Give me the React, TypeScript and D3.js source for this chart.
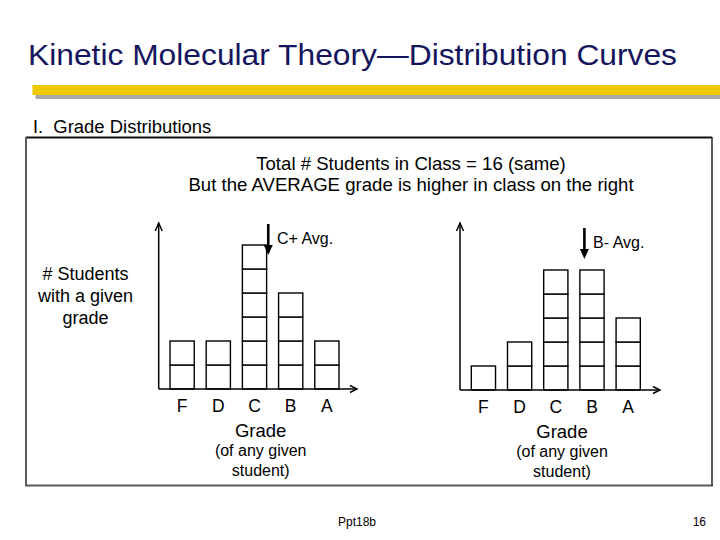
import React from "react";
import * as d3 from "d3";

const grades = ["F", "D", "C", "B", "A"];
const leftCounts = [2, 2, 6, 4, 2];
const rightCounts = [1, 2, 5, 5, 3];
const avgLabels = ["C+ Avg.", "B- Avg."];
const avgGradeIndex = [2.38, 2.79];
const titleText = "Kinetic Molecular Theory\u2014Distribution Curves";
const sectionNum = "I.";
const sectionText = "Grade Distributions";
const headerLines = [
  "Total # Students in Class = 16 (same)",
  "But the AVERAGE grade is higher in class on the right",
];
const yLabelLines = ["# Students", "with a given", "grade"];
const xLabelLines = ["Grade", "(of any given", "student)"];

const FONT = "'Liberation Sans', Arial, Helvetica, sans-serif";

type PanelProps = {
  counts: number[];
  axisX: number;
  baseY: number;
  axisTop: number;
  axisRight: number;
  avgIdx: number;
  avgLabel: string;
  arrowTopOffset: number;
};

function Panel({ counts, axisX, baseY, axisTop, axisRight, avgIdx, avgLabel, arrowTopOffset }: PanelProps) {
  const step = 36.2;
  const x = d3
    .scaleBand<string>()
    .domain(grades)
    .range([axisX + 5.3, axisX + 5.3 + step * 5])
    .paddingInner(0.331)
    .paddingOuter(0.166);
  const y = d3.scaleLinear().domain([0, 7]).range([baseY, baseY - 168]);
  const idx = d3
    .scaleLinear()
    .domain([0, 4])
    .range([(x("F") as number) + x.bandwidth() / 2, (x("A") as number) + x.bandwidth() / 2]);
  const ax = idx(avgIdx);
  const aTop = axisTop + arrowTopOffset;
  const aTip = aTop + 31;
  const boxes: { g: string; i: number }[] = [];
  grades.forEach((g, k) => {
    for (let i = 0; i < counts[k]; i++) boxes.push({ g, i });
  });
  return (
    <g>
      {boxes.map((b, j) => (
        <rect
          key={j}
          x={x(b.g)}
          y={y(b.i + 1)}
          width={x.bandwidth()}
          height={y(b.i) - y(b.i + 1)}
          fill="#fff"
          stroke="#000"
          strokeWidth={1.4}
        />
      ))}
      <line x1={axisX} y1={baseY} x2={axisX} y2={axisTop} stroke="#000" strokeWidth={1.5} />
      <polyline
        points={`${axisX - 3.5},${axisTop + 8} ${axisX},${axisTop} ${axisX + 3.5},${axisTop + 8}`}
        fill="none"
        stroke="#000"
        strokeWidth={1.5}
      />
      <line x1={axisX} y1={baseY} x2={axisRight} y2={baseY} stroke="#000" strokeWidth={1.6} />
      <polyline
        points={`${axisRight - 7},${baseY - 3.5} ${axisRight},${baseY} ${axisRight - 7},${baseY + 3.5}`}
        fill="none"
        stroke="#000"
        strokeWidth={1.4}
      />
      {grades.map((g) => (
        <text
          key={g}
          x={(x(g) as number) + x.bandwidth() / 2}
          y={baseY + 22.5}
          textAnchor="middle"
          fontSize={17.5}
          fontFamily={FONT}
          fill="#000"
        >
          {g}
        </text>
      ))}
      {xLabelLines.map((t, i) => (
        <text
          key={t}
          x={axisX + 102}
          y={baseY + [47.5, 66.5, 87][i]}
          textAnchor="middle"
          fontSize={i === 0 ? 18.5 : 16}
          fontFamily={FONT}
          fill="#000"
        >
          {t}
        </text>
      ))}
      <line x1={ax} y1={aTop} x2={ax} y2={aTip - 8} stroke="#000" strokeWidth={2.6} />
      <polygon points={`${ax - 4.5},${aTip - 10} ${ax + 4.5},${aTip - 10} ${ax},${aTip}`} fill="#000" />
      <text x={ax + 8.7} y={aTop + 19.5} fontSize={16} fontFamily={FONT} fill="#000">
        {avgLabel}
      </text>
    </g>
  );
}

export default function App() {
  return (
    <svg
      width={720}
      height={540}
      style={{ position: "absolute", left: 0, top: 0, background: "#fff" }}
    >
      <rect x={0} y={0} width={720} height={540} fill="#fff" />
      <text
        x={28}
        y={65}
        fontSize={30}
        fontFamily={FONT}
        fill="#15155e"
        textLength={649}
        lengthAdjust="spacingAndGlyphs"
      >
        {titleText}
      </text>
      <rect x={35.5} y={89} width={690} height={10} fill="#a9a9a9" />
      <rect x={32.5} y={85} width={690} height={10} fill="#f0c800" />
      <text x={33} y={133.3} fontSize={18} fontFamily={FONT} fill="#000">
        {sectionNum}
      </text>
      <text x={53.3} y={133.3} fontSize={18} fontFamily={FONT} fill="#000" textLength={158} lengthAdjust="spacingAndGlyphs">
        {sectionText}
      </text>
      <line x1={26} y1={137.5} x2={712} y2={137.5} stroke="#111" strokeWidth={1.8} />
      <line x1={26} y1={137} x2={26} y2={486} stroke="#5c5c5c" strokeWidth={2} />
      <line x1={25} y1={485.5} x2={713} y2={485.5} stroke="#5c5c5c" strokeWidth={2} />
      <line x1={712} y1={137} x2={712} y2={486} stroke="#333" strokeWidth={1.6} />
      {headerLines.map((t, i) => (
        <text
          key={t}
          x={411}
          y={169.5 + i * 21.5}
          textAnchor="middle"
          fontSize={18.6}
          fontFamily={FONT}
          fill="#000"
        >
          {t}
        </text>
      ))}
      {yLabelLines.map((t, i) => (
        <text
          key={t}
          x={85.5}
          y={279.5 + i * 22}
          textAnchor="middle"
          fontSize={18}
          fontFamily={FONT}
          fill="#000"
        >
          {t}
        </text>
      ))}
      <Panel
        counts={leftCounts}
        axisX={158.7}
        baseY={389}
        axisTop={223}
        axisRight={357}
        avgIdx={avgGradeIndex[0]}
        avgLabel={avgLabels[0]}
        arrowTopOffset={1}
      />
      <Panel
        counts={rightCounts}
        axisX={460}
        baseY={390}
        axisTop={223}
        axisRight={660}
        avgIdx={avgGradeIndex[1]}
        avgLabel={avgLabels[1]}
        arrowTopOffset={5}
      />
      <text x={338} y={525.5} fontSize={12} fontFamily={FONT} fill="#000">
        Ppt18b
      </text>
      <text x={706} y={525.5} textAnchor="end" fontSize={12} fontFamily={FONT} fill="#000">
        16
      </text>
    </svg>
  );
}
